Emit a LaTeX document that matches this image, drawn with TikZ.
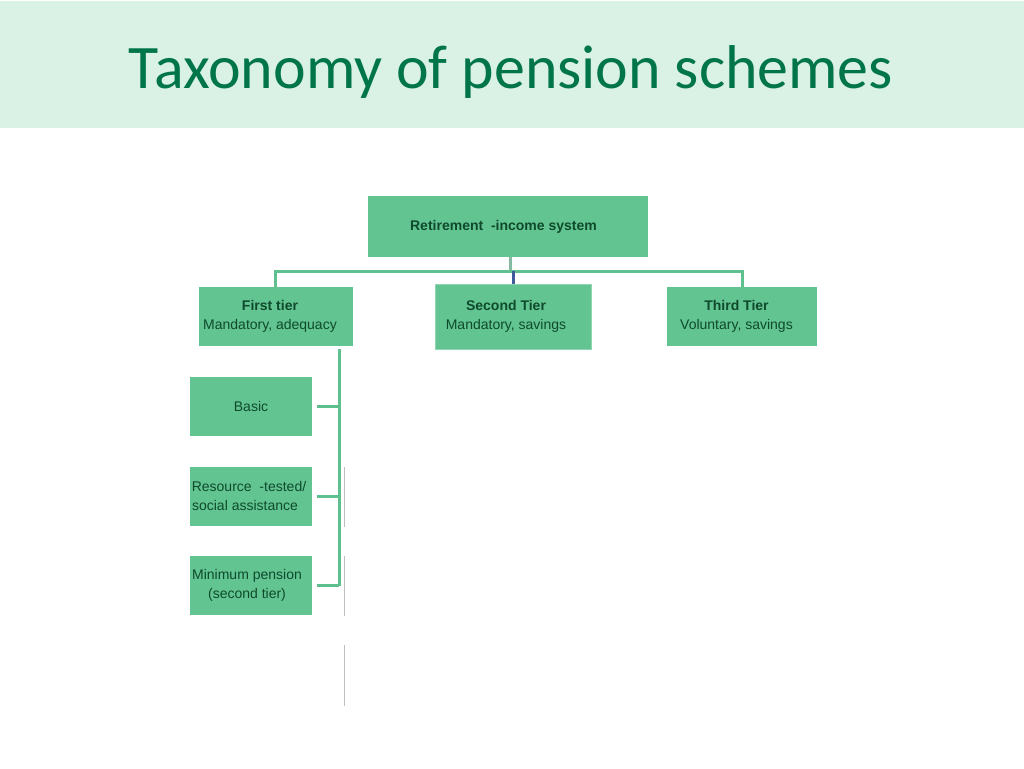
\documentclass[tikz,border=0pt]{standalone}
\usepackage{fontspec}
\setmainfont{Liberation Sans}
\newfontfamily\titlefont{Carlito}
\usetikzlibrary{calc}
\definecolor{band}{HTML}{DAF1E5}
\definecolor{titlegreen}{HTML}{00754A}
\definecolor{boxfill}{HTML}{62C491}
\definecolor{txtgreen}{HTML}{0E4A2B}
\definecolor{conngreen}{HTML}{5EC08F}
\definecolor{connblue}{HTML}{3E5C9A}
\definecolor{conngray}{HTML}{84B9A2}
\tikzset{
  box/.style={draw=none, fill=boxfill, inner sep=0pt},
  lbl/.style={text=txtgreen, font=\fontsize{10.5pt}{14.25pt}\selectfont, align=center, inner sep=0pt},
  conn/.style={draw=conngreen, line width=2.25pt},
  faint/.style={draw=black!25, line width=0.5pt}
}
\begin{document}
\begin{tikzpicture}[x=0.75pt,y=-0.75pt]
\useasboundingbox (0,0) rectangle (1024,768);
\fill[white] (0,0) rectangle (1024,768);
\fill[band] (0,1) rectangle (1024,128);
\node[text=titlegreen, font=\titlefont\fontsize{46.4pt}{50pt}\selectfont, anchor=base, inner sep=0pt] (title) at (511,88) {Taxonomy of pension schemes};

% boxes
\node[box, minimum width=210pt, minimum height=45.75pt] (root) at (508,226.5) {};
\node[box, minimum width=115.5pt, minimum height=44.25pt] (first) at (276,316.5) {};
\node[box, draw=boxfill!70!white, line width=0.6pt, minimum width=117pt, minimum height=48.75pt] (second) at (513,316.5) {};
\node[box, minimum width=112.5pt, minimum height=44.25pt] (third) at (742,316.5) {};
\node[box, minimum width=91.5pt, minimum height=44.25pt] (basic) at (251,406.5) {};
\node[box, minimum width=91.5pt, minimum height=44.25pt] (resource) at (251,496.5) {};
\node[box, minimum width=91.5pt, minimum height=44.25pt] (minp) at (251,585.5) {};

% labels
\node[lbl, font=\bfseries\fontsize{10.5pt}{14.25pt}\selectfont] (rootlbl) at (503.5,227) {Retirement\ \ -income system};
\node[lbl] (firstlbl) at (270,316) {\textbf{First tier}\\Mandatory, adequacy};
\node[lbl] (secondlbl) at (506,316) {\textbf{Second Tier}\\Mandatory, savings};
\node[lbl] (thirdlbl) at (736.5,316) {\textbf{Third Tier}\\Voluntary, savings};
\node[lbl] (basiclbl) at (251,406.5) {Basic};
\node[lbl] (resourcelbl) at (249,495.5) {Resource\ \ -tested/\\social assistance\hspace*{6pt}};
\node[lbl] (minplbl) at (247,585) {Minimum pension\\(second tier)};

% top connectors
\coordinate (bar) at (510,271);
\draw[draw=conngray, line width=2.25pt] (root.south -| bar) -- (bar);
\draw[conn] (first.north -| 275,0) -- (275,271) -- (742,271) -- (third.north);
\draw[draw=connblue, line width=2.25pt] (513,271) -- (second.north -| 513,0);

% first tier spine
\coordinate (spinetop) at (339,349);
\draw[conn] (spinetop) -- (spinetop |- minp.east);
\draw[conn] ($(basic.east)+(5,0)$) -- (basic.east -| spinetop);
\draw[conn] ($(resource.east)+(5,0)$) -- (resource.east -| spinetop);
\draw[conn] ($(minp.east)+(5,0)$) -- (minp.east -| spinetop);

% faint lines
\coordinate (f1) at (344,467);
\coordinate (f2) at (344,556);
\coordinate (f3) at (344,645);
\draw[faint] (f1) -- ++(0,60);
\draw[faint] (f2) -- ++(0,60);
\draw[faint] (f3) -- ++(0,61);
\end{tikzpicture}
\end{document}
